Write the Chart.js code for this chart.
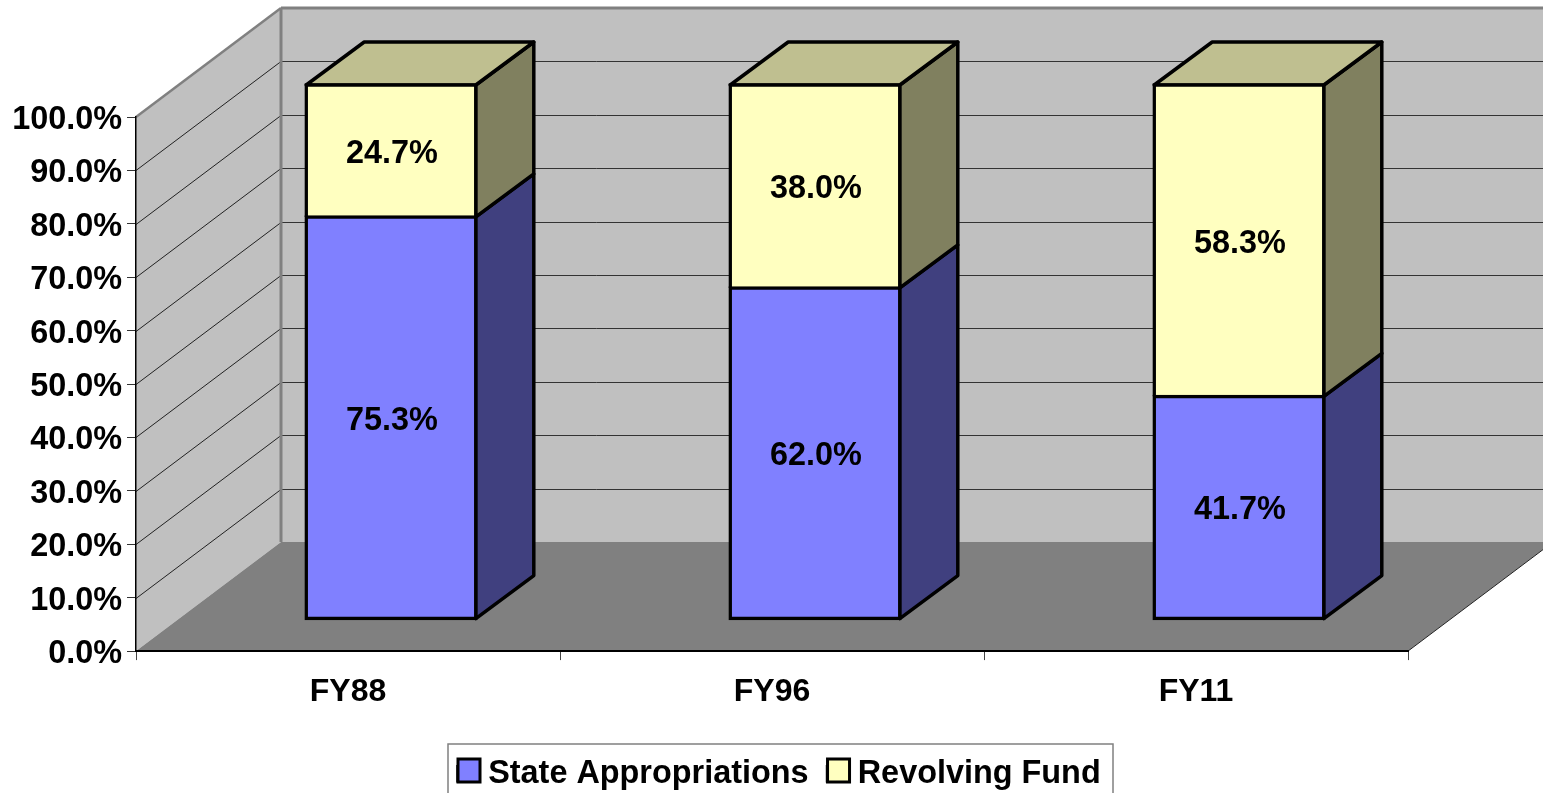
<!DOCTYPE html>
<html>
<head>
<meta charset="utf-8">
<style>
  html, body { margin: 0; padding: 0; background: #fff; overflow: hidden; }
  canvas { display: block; }
</style>
<script src="https://cdn.jsdelivr.net/npm/chart.js@4/dist/chart.umd.min.js"></script>
</head>
<body>
<canvas id="chart" width="1543" height="793"></canvas>
<script>
const categories = ['FY88', 'FY96', 'FY11'];
const stateAppropriations = [75.3, 62.0, 41.7];
const revolvingFund = [24.7, 38.0, 58.3];

const FONT = '"Liberation Sans", Arial, sans-serif';

// depth of the floor / walls and of the bars, in px
const wall = { dx: 145, dy: -109 };
const barShift = { dx: 43, dy: -32 };
const barDepth = { dx: 58, dy: -43 };

function poly(ctx, pts, fill, stroke, width) {
  ctx.beginPath();
  pts.forEach((p, i) => (i ? ctx.lineTo(p[0], p[1]) : ctx.moveTo(p[0], p[1])));
  ctx.closePath();
  if (fill) {
    ctx.fillStyle = fill;
    ctx.fill();
  }
  if (stroke) {
    ctx.strokeStyle = stroke;
    ctx.lineWidth = width;
    ctx.lineJoin = 'round';
    ctx.stroke();
  }
}

function line(ctx, x1, y1, x2, y2, color, width) {
  ctx.beginPath();
  ctx.moveTo(x1, y1);
  ctx.lineTo(x2, y2);
  ctx.strokeStyle = color;
  ctx.lineWidth = width;
  ctx.stroke();
}

const box3d = {
  id: 'box3d',

  afterLayout(chart) {
    // legend sits in its own frame, off-centre from the canvas
    const legend = chart.legend;
    legend.left = 439;
    legend.right = 1200;
    legend.top = 738.5;
    legend.adjustHitBoxes();
  },

  beforeDraw(chart) {
    const { ctx, scales: { x, y } } = chart;
    const l = x.left, r = x.right, t = y.top, b = y.bottom;
    const dx = wall.dx, dy = wall.dy;
    ctx.save();
    // back wall + side wall + floor
    poly(ctx, [[l + dx, t + dy], [r + dx, t + dy], [r + dx, b + dy], [l + dx, b + dy]], '#C0C0C0');
    poly(ctx, [[l, b], [l, t], [l + dx, t + dy], [l + dx, b + dy]], '#C0C0C0');
    poly(ctx, [[l, b], [l + dx, b + dy], [r + dx, b + dy], [r, b]], '#808080');
    // grid lines run along the side wall then the back wall
    y.ticks.forEach(tick => {
      if (tick.value === 0 || tick.value === 100) return;
      const py = Math.round(y.getPixelForValue(tick.value)) + 0.5;
      line(ctx, l, py, l + dx, py + dy, '#222', 1);
      line(ctx, l + dx, py + dy, r + dx, py + dy, '#333', 1);
    });
    // wall edges
    line(ctx, l, t, l + dx, t + dy, '#808080', 2.5);
    line(ctx, l + dx, t + dy, r + dx, t + dy, '#808080', 3);
    line(ctx, l + dx, t + dy, l + dx, b + dy, '#808080', 3);
    line(ctx, r, b, r + dx, b + dy, '#222', 1);
    ctx.restore();
  },

  beforeDatasetsDraw(chart) {
    const { ctx } = chart;
    ctx.save();
    ctx.translate(barShift.dx, barShift.dy);
    chart.data.datasets.forEach((ds, i) => {
      chart.getDatasetMeta(i).data.forEach(bar => {
        const { x, y, base, width } = bar.getProps(['x', 'y', 'base', 'width']);
        const right = x + width / 2;
        const left = x - width / 2;
        const ddx = barDepth.dx, ddy = barDepth.dy;
        poly(ctx, [[right, y], [right + ddx, y + ddy], [right + ddx, base + ddy], [right, base]], ds.sideColor, '#000', 3.5);
        if (i === chart.data.datasets.length - 1) {
          poly(ctx, [[left, y], [left + ddx, y + ddy], [right + ddx, y + ddy], [right, y]], ds.topColor, '#000', 3.5);
        }
      });
    });
  },

  afterDatasetsDraw(chart) {
    const { ctx } = chart;
    // drop the shift set in beforeDatasetsDraw, labels get it added by hand
    ctx.restore();
    ctx.save();
    ctx.font = 'bold 32.4px ' + FONT;
    ctx.fillStyle = '#000';
    ctx.textAlign = 'center';
    ctx.textBaseline = 'middle';
    chart.data.datasets.forEach((ds, i) => {
      chart.getDatasetMeta(i).data.forEach((bar, j) => {
        const { x, y, base } = bar.getProps(['x', 'y', 'base']);
        ctx.fillText(ds.data[j].toFixed(1) + '%', x + barShift.dx + 1, (y + base) / 2 + barShift.dy + 3);
      });
    });
    ctx.restore();
  },

  afterDraw(chart) {
    const { ctx } = chart;
    ctx.save();
    // legend frame, cut off by the bottom of the picture
    ctx.strokeStyle = '#808080';
    ctx.lineWidth = 1.5;
    ctx.strokeRect(448, 744, 665, 60);
    // square swatches, bigger than what the legend's box/text gap allows
    chart.legend.legendHitBoxes.forEach((hb, i) => {
      const ds = chart.data.datasets[i];
      ctx.fillStyle = ds.backgroundColor;
      ctx.strokeStyle = '#000';
      ctx.lineWidth = 3;
      ctx.fillRect(hb.left, 759, 22, 23);
      ctx.strokeRect(hb.left, 759, 22, 23);
    });
    ctx.restore();
  }
};

new Chart(document.getElementById('chart'), {
  type: 'bar',
  data: {
    labels: categories,
    datasets: [
      {
        label: 'State Appropriations',
        data: stateAppropriations,
        backgroundColor: '#8080FF',
        sideColor: '#40407F',
        borderColor: '#000',
        borderWidth: 3.5,
        borderSkipped: false,
        inflateAmount: 1.75,
        clip: false
      },
      {
        label: 'Revolving Fund',
        data: revolvingFund,
        backgroundColor: '#FFFFC0',
        sideColor: '#80805F',
        topColor: '#BFBF90',
        borderColor: '#000',
        borderWidth: 3.5,
        borderSkipped: 'start',
        inflateAmount: 1.75,
        clip: false
      }
    ]
  },
  options: {
    responsive: false,
    animation: false,
    layout: { padding: { top: 117, right: 135, left: 0, bottom: 0 } },
    datasets: { bar: { categoryPercentage: 1, barPercentage: 0.4 } },
    plugins: {
      tooltip: { enabled: false },
      legend: {
        position: 'bottom',
        align: 'start',
        labels: {
          boxWidth: 14,
          boxHeight: 14,
          padding: 19,
          color: '#000',
          font: { family: FONT, size: 32.4, weight: 'bold' }
        }
      }
    },
    scales: {
      x: {
        stacked: true,
        afterFit(scale) { scale.height = 80.5; },
        grid: { drawOnChartArea: false, tickLength: 9, color: '#444' },
        border: { color: '#000', width: 2 },
        ticks: { color: '#000', padding: 13, font: { family: FONT, size: 32, weight: 'bold' } }
      },
      y: {
        stacked: true,
        min: 0,
        max: 100,
        afterFit(scale) { scale.width = 136; },
        grid: { drawOnChartArea: false, tickLength: 9, color: '#333' },
        border: { color: '#000', width: 1.5 },
        ticks: {
          stepSize: 10,
          color: '#000',
          padding: 5,
          labelOffset: 3,
          font: { family: FONT, size: 32.4, weight: 'bold' },
          callback: v => v.toFixed(1) + '%'
        }
      }
    }
  },
  plugins: [box3d]
});
</script>
</body>
</html>
